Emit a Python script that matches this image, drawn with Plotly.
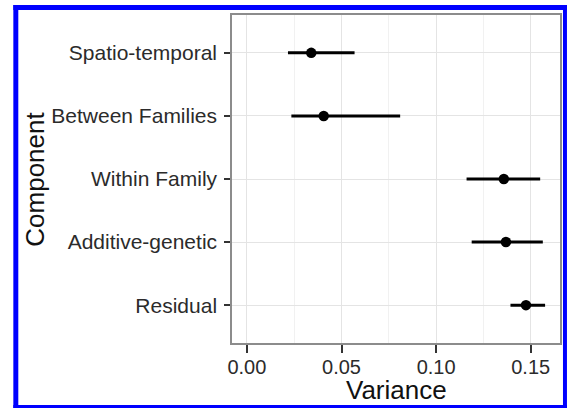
import plotly.graph_objects as go

# Variance components: posterior mean with lower/upper interval bounds
components = ["Spatio-temporal", "Between Families", "Within Family",
              "Additive-genetic", "Residual"]
estimate = [0.034, 0.0406, 0.1358, 0.1369, 0.1475]
lower = [0.0217, 0.0235, 0.1161, 0.1188, 0.1393]
upper = [0.0569, 0.0810, 0.1550, 0.1564, 0.1576]

x_ticks = [0.00, 0.05, 0.10, 0.15]
x_tick_text = ["0.00", "0.05", "0.10", "0.15"]

W, H = 569, 408
L, R, T, B = 232, 7, 15, 65
PW, PH = W - L - R, H - T - B


def px_x(p):
    return (p - L) / PW


def px_y(p):
    return (H - B - p) / PH


FONT = "Liberation Sans, Arial, Helvetica, sans-serif"

fig = go.Figure()
fig.add_trace(go.Scatter(
    x=estimate,
    y=components,
    mode="markers",
    marker=dict(color="black", size=10.5),
    error_x=dict(
        type="data",
        symmetric=False,
        array=[u - e for u, e in zip(upper, estimate)],
        arrayminus=[e - l for e, l in zip(estimate, lower)],
        color="black",
        thickness=3,
        width=0,
    ),
    showlegend=False,
))

# axis limits: zero to the highest interval bound, padded 5% on each side
lo_lim, hi_lim = 0.0, max(upper)
pad = 0.05 * (hi_lim - lo_lim)

grid_major = "#e4e4e4"
grid_minor = "#f1f1f1"
label_color = "#2b2b2b"

fig.update_xaxes(
    range=[lo_lim - pad, hi_lim + pad],
    tickvals=x_ticks,
    ticktext=x_tick_text,
    ticks="outside",
    ticklen=8,
    tickwidth=2,
    tickcolor="#333333",
    ticklabelstandoff=-3,
    tickfont=dict(family=FONT, size=20, color=label_color),
    showgrid=True,
    gridcolor=grid_major,
    gridwidth=1,
    minor=dict(tickvals=[0.025, 0.075, 0.125], showgrid=True,
               gridcolor=grid_minor, gridwidth=1, ticks=""),
    showline=True,
    linecolor="#8c8c8c",
    linewidth=1.5,
    mirror=True,
    zeroline=False,
)
fig.update_yaxes(
    categoryorder="array",
    categoryarray=components[::-1],
    range=[-0.6, len(components) - 0.4],
    ticks="outside",
    ticklen=6,
    tickwidth=2,
    tickcolor="#333333",
    ticklabelstandoff=3,
    tickfont=dict(family=FONT, size=21, color=label_color),
    showgrid=True,
    gridcolor=grid_major,
    gridwidth=1,
    showline=True,
    linecolor="#8c8c8c",
    linewidth=1.5,
    mirror=True,
    zeroline=False,
)

# Axis titles
fig.add_annotation(text="Variance", xref="paper", yref="paper",
                   x=px_x(397), y=px_y(390), xanchor="center", yanchor="middle",
                   showarrow=False, font=dict(family=FONT, size=26, color="#111111"))
fig.add_annotation(text="Component", xref="paper", yref="paper",
                   x=px_x(34), y=px_y(179.5), xanchor="center", yanchor="middle",
                   textangle=-90, showarrow=False,
                   font=dict(family=FONT, size=26, color="#111111"))

# Blue frame around the figure
blue = "#0000ff"
frame = [
    (12, 5, 17, 408),    # left
    (12, 5, 569, 10),    # top
    (565, 5, 569, 408),  # right
    (12, 405, 569, 408),  # bottom
]
for x0, y0, x1, y1 in frame:
    fig.add_shape(type="rect", xref="paper", yref="paper",
                  x0=px_x(x0), x1=px_x(x1), y0=px_y(y1), y1=px_y(y0),
                  fillcolor=blue, line=dict(width=0), layer="above")

fig.update_layout(
    width=W, height=H,
    margin=dict(l=L, r=R, t=T, b=B),
    paper_bgcolor="white",
    plot_bgcolor="white",
    font=dict(family=FONT),
)

fig.write_html("out.html")
